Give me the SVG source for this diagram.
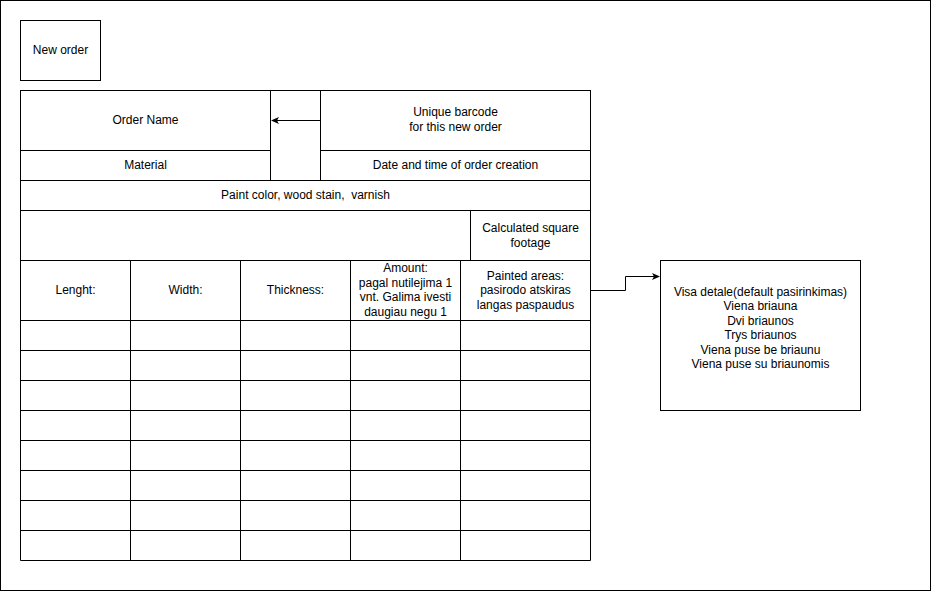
<svg xmlns="http://www.w3.org/2000/svg" width="931" height="591" viewBox="0 0 931 591">
<style>
.b{fill:#fff;stroke:#000;stroke-width:1}
.t{font-family:"Liberation Sans",Arial,sans-serif;font-size:12px;fill:#000;text-anchor:middle;dominant-baseline:central;white-space:pre}
.c{fill:none;stroke:#000;stroke-width:1}
</style>
<defs>
<marker id="ah" markerWidth="10" markerHeight="10" refX="7" refY="4" orient="auto" markerUnits="userSpaceOnUse">
<path d="M0,0.5 L8,4 L0,7.5 L2,4 Z" fill="#000"/>
</marker>
</defs>
<rect x="0.5" y="0.5" width="930" height="590" class="b"/>
<g id="new-order"><rect x="20.5" y="20.5" width="80" height="60" class="b"/><text x="60.5" y="49.5" class="t">New order</text></g>
<g id="order-name"><rect x="20.5" y="90.5" width="250" height="60" class="b"/><text x="145.5" y="119.5" class="t">Order Name</text></g>
<g id="spacer"><rect x="270.5" y="90.5" width="50" height="90" class="b"/></g>
<g id="barcode"><rect x="320.5" y="90.5" width="270" height="60" class="b"/><text x="455.5" y="111.5" class="t">Unique barcode</text><text x="455.5" y="126.5" class="t">for this new order</text></g>
<g id="material"><rect x="20.5" y="150.5" width="250" height="30" class="b"/><text x="145.5" y="164.5" class="t">Material</text></g>
<g id="date"><rect x="320.5" y="150.5" width="270" height="30" class="b"/><text x="455.5" y="164.5" class="t">Date and time of order creation</text></g>
<g id="paint"><rect x="20.5" y="180.5" width="570" height="30" class="b"/><text x="305.5" y="194.5" class="t" xml:space="preserve">Paint color, wood stain,  varnish</text></g>
<g id="empty-row"><rect x="20.5" y="210.5" width="450" height="50" class="b"/></g>
<g id="square"><rect x="470.5" y="210.5" width="120" height="50" class="b"/><text x="530.5" y="227.5" class="t">Calculated square</text><text x="530.5" y="242.5" class="t">footage</text></g>
<g id="h-length"><rect x="20.5" y="260.5" width="110" height="60" class="b"/><text x="75.5" y="289.5" class="t">Lenght:</text></g>
<g id="h-width"><rect x="130.5" y="260.5" width="110" height="60" class="b"/><text x="185.5" y="289.5" class="t">Width:</text></g>
<g id="h-thick"><rect x="240.5" y="260.5" width="110" height="60" class="b"/><text x="295.5" y="289.5" class="t">Thickness:</text></g>
<g id="h-amount"><rect x="350.5" y="260.5" width="110" height="60" class="b"/><text x="405.5" y="268" class="t">Amount:</text><text x="405.5" y="282.5" class="t">pagal nutilejima 1</text><text x="405.5" y="297" class="t">vnt. Galima ivesti</text><text x="405.5" y="311.5" class="t">daugiau negu 1</text></g>
<g id="h-painted"><rect x="460.5" y="260.5" width="130" height="60" class="b"/><text x="525.5" y="275.5" class="t">Painted areas:</text><text x="525.5" y="290" class="t">pasirodo atskiras</text><text x="525.5" y="304.5" class="t">langas paspaudus</text></g>
<g id="rows" class="c">
<path d="M20.5 320.5H590.5V560.5H20.5Z"/>
<path d="M20.5 350.5H590.5M20.5 380.5H590.5M20.5 410.5H590.5M20.5 440.5H590.5M20.5 470.5H590.5M20.5 500.5H590.5M20.5 530.5H590.5"/>
<path d="M130.5 320.5V560.5M240.5 320.5V560.5M350.5 320.5V560.5M460.5 320.5V560.5"/>
</g>
<g id="options"><rect x="660.5" y="260.5" width="200" height="150" class="b"/>
<text x="760.5" y="291.5" class="t">Visa detale(default pasirinkimas)</text>
<text x="760.5" y="306" class="t">Viena briauna</text>
<text x="760.5" y="320.5" class="t">Dvi briaunos</text>
<text x="760.5" y="335" class="t">Trys briaunos</text>
<text x="760.5" y="349.5" class="t">Viena puse be briaunu</text>
<text x="760.5" y="364" class="t">Viena puse su briaunomis</text>
</g>
<g id="connectors" class="c">
<path d="M320.5 120.5H272" marker-end="url(#ah)"/>
<path d="M590.5 290.5H625.5V276.5H659" marker-end="url(#ah)"/>
</g>
</svg>
